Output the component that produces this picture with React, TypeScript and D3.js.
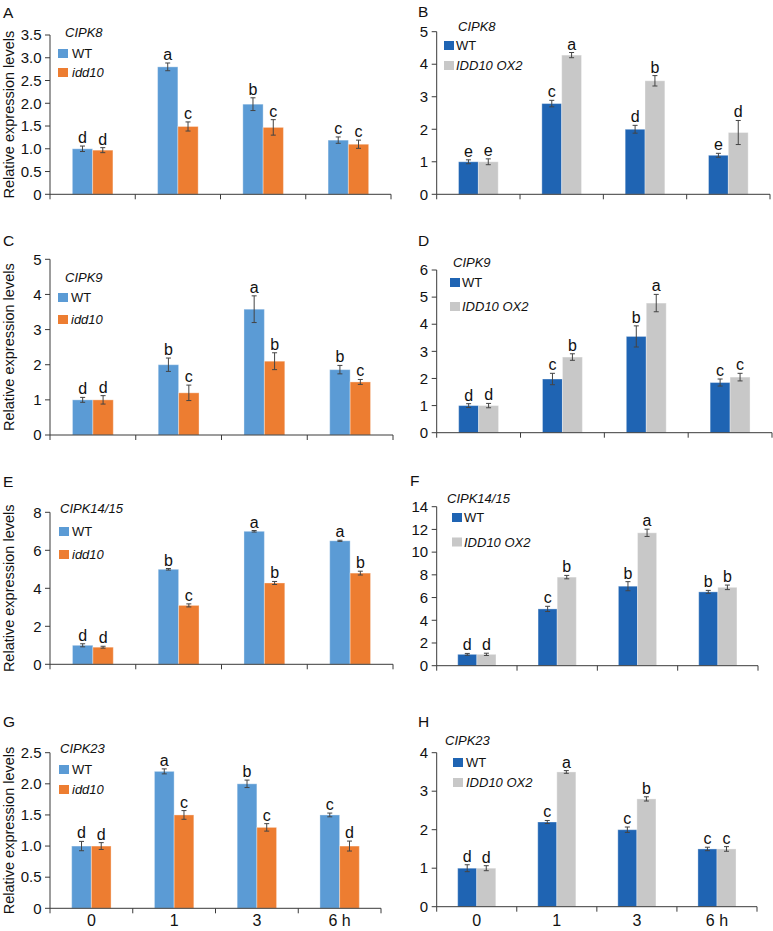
import React from "react";
import * as d3 from "d3";

// ---------- data ----------
const timePoints = ["0", "1", "3", "6 h"];

// A: CIPK8, WT vs idd10
const cipk8WtA = [1.0, 2.8, 1.98, 1.19];
const cipk8WtAErr = [0.06, 0.085, 0.14, 0.07];
const cipk8WtALet = ["d", "a", "b", "c"];
const cipk8Idd10 = [0.97, 1.49, 1.47, 1.1];
const cipk8Idd10Err = [0.055, 0.1, 0.17, 0.09];
const cipk8Idd10Let = ["d", "c", "c", "c"];

// B: CIPK8, WT vs IDD10 OX2
const cipk8WtB = [1.0, 2.79, 2.0, 1.2];
const cipk8WtBErr = [0.06, 0.1, 0.12, 0.06];
const cipk8WtBLet = ["e", "c", "d", "e"];
const cipk8Ox = [1.0, 4.28, 3.49, 1.9];
const cipk8OxErr = [0.09, 0.08, 0.16, 0.37];
const cipk8OxLet = ["e", "a", "b", "d"];

// C: CIPK9, WT vs idd10
const cipk9WtC = [1.0, 2.0, 3.58, 1.86];
const cipk9WtCErr = [0.07, 0.19, 0.38, 0.12];
const cipk9WtCLet = ["d", "b", "a", "b"];
const cipk9Idd10 = [1.0, 1.2, 2.1, 1.51];
const cipk9Idd10Err = [0.12, 0.22, 0.24, 0.07];
const cipk9Idd10Let = ["d", "c", "b", "c"];

// D: CIPK9, WT vs IDD10 OX2
const cipk9WtD = [1.0, 1.98, 3.55, 1.85];
const cipk9WtDErr = [0.07, 0.21, 0.39, 0.13];
const cipk9WtDLet = ["d", "c", "b", "c"];
const cipk9Ox = [1.0, 2.79, 4.78, 2.05];
const cipk9OxErr = [0.08, 0.12, 0.32, 0.14];
const cipk9OxLet = ["d", "b", "a", "c"];

// E: CIPK14/15, WT vs idd10
const cipk1415WtE = [1.0, 5.0, 7.0, 6.5];
const cipk1415WtEErr = [0.08, 0.04, 0.04, 0.03];
const cipk1415WtELet = ["d", "b", "a", "a"];
const cipk1415Idd10 = [0.9, 3.1, 4.28, 4.8];
const cipk1415Idd10Err = [0.05, 0.08, 0.08, 0.1];
const cipk1415Idd10Let = ["d", "c", "b", "b"];

// F: CIPK14/15, WT vs IDD10 OX2
const cipk1415WtF = [1.0, 5.0, 7.0, 6.5];
const cipk1415WtFErr = [0.08, 0.23, 0.4, 0.13];
const cipk1415WtFLet = ["d", "c", "b", "b"];
const cipk1415Ox = [1.0, 7.8, 11.7, 6.9];
const cipk1415OxErr = [0.1, 0.15, 0.32, 0.2];
const cipk1415OxLet = ["d", "b", "a", "b"];

// G: CIPK23, WT vs idd10
const cipk23WtG = [1.0, 2.2, 2.0, 1.5];
const cipk23WtGErr = [0.075, 0.04, 0.06, 0.03];
const cipk23WtGLet = ["d", "a", "b", "c"];
const cipk23Idd10 = [1.0, 1.5, 1.3, 1.0];
const cipk23Idd10Err = [0.055, 0.07, 0.06, 0.08];
const cipk23Idd10Let = ["d", "c", "c", "d"];

// H: CIPK23, WT vs IDD10 OX2
const cipk23WtH = [1.0, 2.2, 2.0, 1.5];
const cipk23WtHErr = [0.09, 0.04, 0.07, 0.045];
const cipk23WtHLet = ["d", "c", "c", "c"];
const cipk23Ox = [1.0, 3.5, 2.8, 1.5];
const cipk23OxErr = [0.065, 0.035, 0.055, 0.06];
const cipk23OxLet = ["d", "a", "b", "c"];

// y ticks
const ticks35 = [0, 0.5, 1.0, 1.5, 2.0, 2.5, 3.0, 3.5];
const ticks25 = [0, 0.5, 1.0, 1.5, 2.0, 2.5];
const ticks5 = [0, 1, 2, 3, 4, 5];
const ticks6 = [0, 1, 2, 3, 4, 5, 6];
const ticks8 = [0, 2, 4, 6, 8];
const ticks14 = [0, 2, 4, 6, 8, 10, 12, 14];
const ticks4 = [0, 1, 2, 3, 4];

const mutantName = "idd10";
const oxName = "IDD10 OX2";
const yTitle = "Relative expression levels";

// ---------- styles ----------
const C_BLUE = "#5b9bd5";
const C_ORANGE = "#ed7d31";
const C_DBLUE = "#1f64b3";
const C_GRAY = "#c8c8c8";
const AXIS = "#3a3a3a";
const FONT = "'Liberation Sans', Arial, Helvetica, sans-serif";

type Panel = {
  letter: string; gene: string;
  x0: number; x1: number; y0: number; yTop: number; max: number; ticks: number[]; fmt: (v: number) => string;
  s1: number[]; e1: number[]; l1: string[]; s2: number[]; e2: number[]; l2: string[];
  c1: string; c2: string; name2: string;
  lx: number; ly: number; tx: number; ty: number; sx: number; r1: number; r2: number; txt: number;
  yLabel: boolean; xLabels: boolean;
};

const f1 = (v: number) => (v === 0 ? "0" : d3.format(".1f")(v));
const f0 = (v: number) => d3.format("d")(v);

const panels: Panel[] = [
  { letter: "A", gene: "CIPK8", x0: 50, x1: 391, y0: 194.3, yTop: 35, max: 3.5, ticks: ticks35, fmt: f1,
    s1: cipk8WtA, e1: cipk8WtAErr, l1: cipk8WtALet, s2: cipk8Idd10, e2: cipk8Idd10Err, l2: cipk8Idd10Let,
    c1: C_BLUE, c2: C_ORANGE, name2: mutantName, lx: 3, ly: 18, tx: 65, ty: 37, sx: 58, r1: 49, r2: 68, txt: 72, yLabel: true, xLabels: false },
  { letter: "B", gene: "CIPK8", x0: 436.7, x1: 770, y0: 194.3, yTop: 31.7, max: 5, ticks: ticks5, fmt: f0,
    s1: cipk8WtB, e1: cipk8WtBErr, l1: cipk8WtBLet, s2: cipk8Ox, e2: cipk8OxErr, l2: cipk8OxLet,
    c1: C_DBLUE, c2: C_GRAY, name2: oxName, lx: 418, ly: 17, tx: 458, ty: 31, sx: 444, r1: 41, r2: 61, txt: 456, yLabel: false, xLabels: false },
  { letter: "C", gene: "CIPK9", x0: 50, x1: 393, y0: 435, yTop: 259.3, max: 5, ticks: ticks5, fmt: f0,
    s1: cipk9WtC, e1: cipk9WtCErr, l1: cipk9WtCLet, s2: cipk9Idd10, e2: cipk9Idd10Err, l2: cipk9Idd10Let,
    c1: C_BLUE, c2: C_ORANGE, name2: mutantName, lx: 3, ly: 245.5, tx: 65, ty: 282, sx: 58, r1: 293, r2: 315, txt: 71, yLabel: true, xLabels: false },
  { letter: "D", gene: "CIPK9", x0: 436.7, x1: 772, y0: 432.7, yTop: 270, max: 6, ticks: ticks6, fmt: f0,
    s1: cipk9WtD, e1: cipk9WtDErr, l1: cipk9WtDLet, s2: cipk9Ox, e2: cipk9OxErr, l2: cipk9OxLet,
    c1: C_DBLUE, c2: C_GRAY, name2: oxName, lx: 418, ly: 246, tx: 453, ty: 267, sx: 450, r1: 278, r2: 302, txt: 462, yLabel: false, xLabels: false },
  { letter: "E", gene: "CIPK14/15", x0: 50, x1: 393, y0: 664.3, yTop: 512.3, max: 8, ticks: ticks8, fmt: f0,
    s1: cipk1415WtE, e1: cipk1415WtEErr, l1: cipk1415WtELet, s2: cipk1415Idd10, e2: cipk1415Idd10Err, l2: cipk1415Idd10Let,
    c1: C_BLUE, c2: C_ORANGE, name2: mutantName, lx: 3, ly: 486.7, tx: 60, ty: 513, sx: 59, r1: 527, r2: 550, txt: 72, yLabel: true, xLabels: false },
  { letter: "F", gene: "CIPK14/15", x0: 436.7, x1: 758, y0: 665.7, yTop: 506.7, max: 14, ticks: ticks14, fmt: f0,
    s1: cipk1415WtF, e1: cipk1415WtFErr, l1: cipk1415WtFLet, s2: cipk1415Ox, e2: cipk1415OxErr, l2: cipk1415OxLet,
    c1: C_DBLUE, c2: C_GRAY, name2: oxName, lx: 410, ly: 486, tx: 447, ty: 503, sx: 452, r1: 513, r2: 537.5, txt: 464, yLabel: false, xLabels: false },
  { letter: "G", gene: "CIPK23", x0: 50, x1: 381, y0: 908.3, yTop: 752.7, max: 2.5, ticks: ticks25, fmt: f1,
    s1: cipk23WtG, e1: cipk23WtGErr, l1: cipk23WtGLet, s2: cipk23Idd10, e2: cipk23Idd10Err, l2: cipk23Idd10Let,
    c1: C_BLUE, c2: C_ORANGE, name2: mutantName, lx: 3, ly: 726.7, tx: 60, ty: 753, sx: 59, r1: 765, r2: 785, txt: 72, yLabel: true, xLabels: true },
  { letter: "H", gene: "CIPK23", x0: 436.7, x1: 757, y0: 906.7, yTop: 752.7, max: 4, ticks: ticks4, fmt: f0,
    s1: cipk23WtH, e1: cipk23WtHErr, l1: cipk23WtHLet, s2: cipk23Ox, e2: cipk23OxErr, l2: cipk23OxLet,
    c1: C_DBLUE, c2: C_GRAY, name2: oxName, lx: 418, ly: 727, tx: 445, ty: 745, sx: 453, r1: 758, r2: 778, txt: 466, yLabel: false, xLabels: true },
];

function PanelView({ p }: { p: Panel }) {
  const x = d3.scaleBand<string>().domain(timePoints).range([p.x0, p.x1]).paddingInner(0).paddingOuter(0);
  const y = d3.scaleLinear().domain([0, p.max]).range([p.y0, p.yTop]);
  const bw = x.bandwidth() * 0.238;
  const boundaries = [...timePoints.map((t) => x(t) as number), p.x1];
  const series = [
    { v: p.s1, e: p.e1, l: p.l1, c: p.c1, off: -bw },
    { v: p.s2, e: p.e2, l: p.l2, c: p.c2, off: 0 },
  ];
  return (
    <g>
      <text x={p.lx} y={p.ly} fontSize={15.5} fontFamily={FONT} fill="#111">{p.letter}</text>
      {/* bars */}
      {series.map((s, si) =>
        timePoints.map((t, i) => {
          const cx = (x(t) as number) + x.bandwidth() / 2 + s.off;
          const top = y(s.v[i]);
          const eTop = y(s.v[i] + s.e[i]);
          const eBot = y(Math.max(0, s.v[i] - s.e[i]));
          const mid = cx + bw / 2;
          return (
            <g key={`${si}-${i}`}>
              <rect x={cx} y={top} width={bw} height={p.y0 - top} fill={s.c} stroke="#ffffff" strokeOpacity={0.35} strokeWidth={1} />
              <line x1={mid} x2={mid} y1={eTop} y2={eBot} stroke="#444" strokeWidth={1} />
              <line x1={mid - 2.5} x2={mid + 2.5} y1={eTop} y2={eTop} stroke="#444" strokeWidth={1} />
              <line x1={mid - 2.5} x2={mid + 2.5} y1={eBot} y2={eBot} stroke="#444" strokeWidth={1} />
              <text x={mid} y={eTop - 3} textAnchor="middle" fontSize={16} fontFamily={FONT} fill="#111">{s.l[i]}</text>
            </g>
          );
        })
      )}
      {/* y axis */}
      <line x1={p.x0} x2={p.x0} y1={p.yTop} y2={p.y0} stroke={AXIS} strokeWidth={1} />
      {p.ticks.map((t) => (
        <g key={`yt${t}`}>
          <line x1={p.x0 - 5} x2={p.x0} y1={y(t)} y2={y(t)} stroke={AXIS} strokeWidth={1} />
          <text x={p.x0 - 8.5} y={y(t)} dy="0.35em" textAnchor="end" fontSize={15} fontFamily={FONT} fill="#111">{p.fmt(t)}</text>
        </g>
      ))}
      {/* x axis */}
      <line x1={p.x0} x2={p.x1} y1={p.y0} y2={p.y0} stroke={AXIS} strokeWidth={1} />
      {boundaries.map((b, i) => (
        <line key={`xt${i}`} x1={b} x2={b} y1={p.y0} y2={p.y0 + 5} stroke={AXIS} strokeWidth={1} />
      ))}
      {p.xLabels && timePoints.map((t) => (
        <text key={`xl${t}`} x={(x(t) as number) + x.bandwidth() / 2} y={925.5} textAnchor="middle" fontSize={16} fontFamily={FONT} fill="#111">{t}</text>
      ))}
      {p.yLabel && (
        <text transform={`translate(14,${(p.y0 + p.yTop) / 2}) rotate(-90)`} textAnchor="middle" fontSize={14.5} fontFamily={FONT} fill="#111">{yTitle}</text>
      )}
      {/* legend */}
      <text x={p.tx} y={p.ty} fontSize={13} fontStyle="italic" fontFamily={FONT} fill="#111">{p.gene}</text>
      <rect x={p.sx} y={p.r1} width={10} height={9} fill={p.c1} />
      <text x={p.txt} y={p.r1 + 9} fontSize={13} fontFamily={FONT} fill="#111">WT</text>
      <rect x={p.sx} y={p.r2} width={10} height={9} fill={p.c2} />
      <text x={p.txt} y={p.r2 + 9} fontSize={13} fontStyle="italic" fontFamily={FONT} fill="#111">{p.name2}</text>
    </g>
  );
}

export default function App() {
  return (
    <svg width={773} height={931} viewBox="0 0 773 931" style={{ position: "absolute", left: 0, top: 0, background: "#fff" }}>
      <rect x={0} y={0} width={773} height={931} fill="#fff" />
      {panels.map((p) => <PanelView key={p.letter} p={p} />)}
    </svg>
  );
}
